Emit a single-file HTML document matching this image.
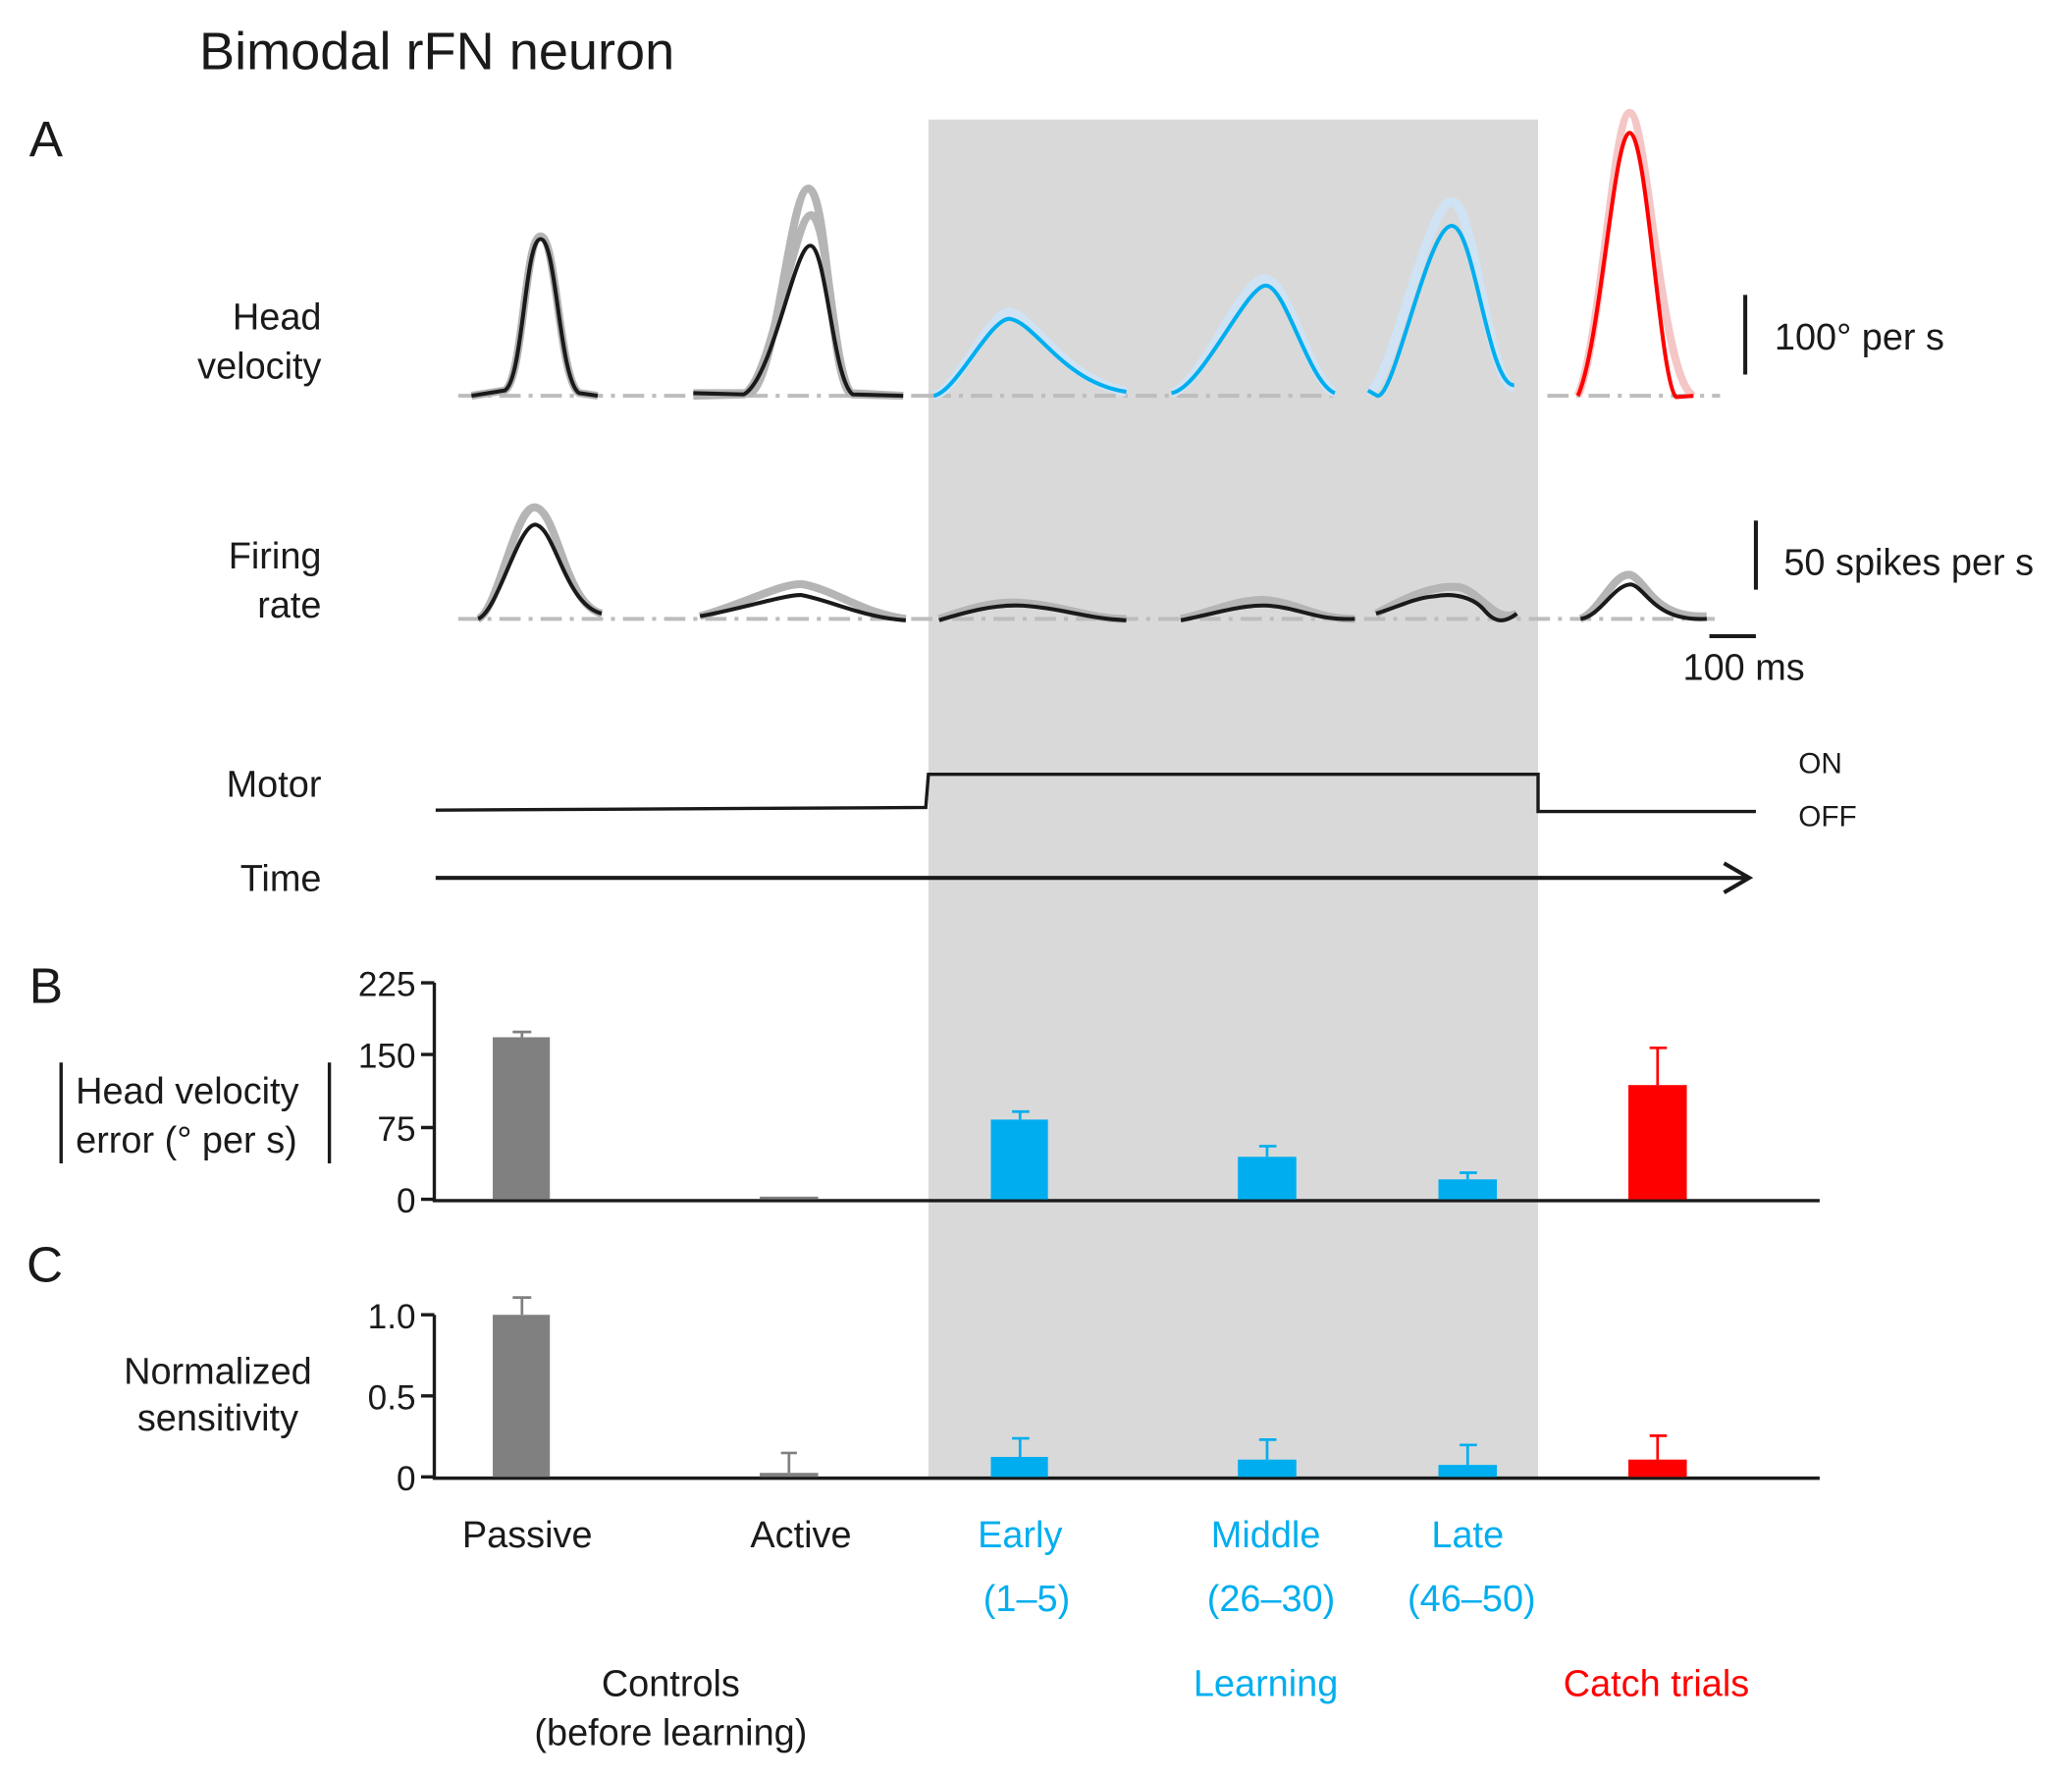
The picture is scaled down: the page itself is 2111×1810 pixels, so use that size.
<!DOCTYPE html>
<html><head><meta charset="utf-8"><style>
html,body{margin:0;padding:0;background:#fff}
svg{display:block}
text{font-family:"Liberation Sans",Arial,sans-serif;fill:#1a1a1a}
</style></head><body>
<svg width="2111" height="1810" viewBox="0 0 1560 1338" preserveAspectRatio="none" xmlns="http://www.w3.org/2000/svg">
<rect x="699" y="90" width="459" height="1023" fill="#d9d9d9"/>
<text x="150" y="52" font-size="40">Bimodal rFN neuron</text>
<text x="22" y="118" font-size="38">A</text>
<g font-size="28" text-anchor="end">
<text x="242" y="248">Head</text><text x="242" y="285">velocity</text>
<text x="242" y="428">Firing</text><text x="242" y="465">rate</text>
<text x="242" y="600">Motor</text><text x="242" y="671">Time</text>
</g>
<!-- baselines -->
<g stroke="#bdbdbd" stroke-width="3" stroke-dasharray="16,6,3,6" fill="none">
<path d="M345 298H700M700 298H1010M1165 298H1295"/>
<path d="M345 466H1295"/>
</g>
<!-- head velocity gray trials -->
<g fill="none" stroke="#b5b5b5" stroke-width="6" stroke-linejoin="round">
<path d="M355 298 L380 294 C394 286,395 178,407 178 C419 178,421 286,436 296 L450 298"/>
<path d="M522 296 L565 296 C585 285,595 140,609 142 C623 145,625 284,640 296 L680 298"/>
<path d="M522 298 L560 297 C582 285,598 160,611 162 C624 165,627 286,642 297 L680 298"/>
</g>
<g fill="none" stroke="#cfe3f5" stroke-width="7" stroke-linejoin="round">
<path d="M703 298 C720 295,745 235,760 235 C780 240,800 285,848 295"/>
<path d="M882 296 C905 290,935 208,953 210 C970 212,985 285,1005 296"/>
<path d="M1030 294 C1045 300,1075 150,1093 152 C1110 150,1120 290,1140 292"/>
</g>
<g fill="none" stroke="#f4c6c6" stroke-width="6"><path d="M1188 298 C1205 260,1215 85,1227 85 C1240 85,1250 285,1275 298"/></g>
<!-- mean traces -->
<g fill="none" stroke-width="3" stroke-linejoin="round">
<path stroke="#1a1a1a" d="M355 298 L380 294 C394 286,395 180,407 180 C419 180,421 286,436 296 L450 298"/>
<path stroke="#1a1a1a" d="M522 296 L560 297 C582 285,598 185,610 185 C622 185,627 286,642 297 L680 298"/>
<path stroke="#00aeef" d="M703 298 C720 295,745 240,760 240 C780 243,800 288,848 295"/>
<path stroke="#00aeef" d="M882 296 C905 292,938 215,953 215 C968 215,985 288,1005 296"/>
<path stroke="#00aeef" d="M1030 294 L1037 298 C1050 300,1075 170,1093 170 C1110 170,1120 290,1140 290"/>
<path stroke="#ff0000" d="M1188 298 C1205 260,1215 100,1227 100 C1240 100,1250 290,1262 299 L1275 298"/>
</g>
<!-- firing rate -->
<g fill="none" stroke="#b5b5b5" stroke-width="6" stroke-linejoin="round">
<path d="M360 466 C375 460,388 380,403 382 C420 385,425 455,453 462"/>
<path d="M527 464 C560 455,590 438,605 440 C630 445,650 462,682 466"/>
<path d="M707 466 C730 458,750 452,770 454 C800 456,820 466,848 466"/>
<path d="M889 466 C915 460,935 450,955 452 C980 455,990 466,1020 466"/>
<path d="M1036 462 C1050 455,1075 440,1098 442 C1115 445,1125 470,1142 462"/>
<path d="M1190 466 C1205 460,1215 430,1228 433 C1240 438,1245 466,1285 464"/>
</g>
<g fill="none" stroke="#1a1a1a" stroke-width="3" stroke-linejoin="round">
<path d="M360 466 C375 460,390 395,403 395 C418 397,425 455,453 462"/>
<path d="M527 464 C560 458,590 448,603 448 C625 452,650 465,682 467"/>
<path d="M707 467 C730 460,750 455,770 456 C800 458,820 466,848 467"/>
<path d="M889 467 C915 462,935 455,955 456 C980 458,990 467,1020 466"/>
<path d="M1036 462 C1050 458,1065 450,1080 449 C1095 446,1110 450,1118 460 C1125 468,1132 470,1142 462"/>
<path d="M1190 466 C1205 464,1215 440,1228 440 C1240 443,1245 468,1285 466"/>
</g>
<!-- scale bars -->
<g stroke="#1a1a1a" stroke-width="3"><path d="M1314 222V282M1322 392V444M1287 479H1322"/></g>
<text x="1336" y="263" font-size="28">100° per s</text>
<text x="1343" y="433" font-size="28">50 spikes per s</text>
<text x="1267" y="512" font-size="28">100 ms</text>
<!-- motor -->
<path d="M328 610 L697 608 L699 583 L1158 583 L1158 611 L1322 611" fill="none" stroke="#1a1a1a" stroke-width="2.5"/>
<text x="1354" y="582" font-size="22">ON</text><text x="1354" y="622" font-size="22">OFF</text>
<path d="M328 661H1316M1298 650L1317 661L1298 672" fill="none" stroke="#1a1a1a" stroke-width="3"/>
<!-- B -->
<text x="22" y="755" font-size="38">B</text>
<g stroke="#1a1a1a" stroke-width="2.5" fill="none">
<path d="M327 740V904H1370M317 740H327M317 794H327M317 849H327M317 903H327"/>
<path d="M46 800V876M248 800V876"/>
</g>
<g font-size="26" text-anchor="end"><text x="313" y="750">225</text><text x="313" y="804">150</text><text x="313" y="859">75</text><text x="313" y="913">0</text></g>
<text x="57" y="831" font-size="28">Head velocity</text>
<text x="57" y="868" font-size="28">error (° per s)</text>
<g stroke-width="2" fill="none">
<path stroke="#808080" d="M393 781V777M386 777H400"/>
<path stroke="#00aeef" d="M768 843V837M762 837H775M954 871V863M948 863H961M1105 888V883M1099 883H1112"/>
<path stroke="#ff0000" d="M1248 817V789M1242 789H1255"/>
</g>
<rect x="371" y="781" width="43" height="122" fill="#808080"/>
<rect x="572" y="901" width="44" height="2" fill="#808080"/>
<rect x="746" y="843" width="43" height="60" fill="#00aeef"/>
<rect x="932" y="871" width="44" height="32" fill="#00aeef"/>
<rect x="1083" y="888" width="44" height="15" fill="#00aeef"/>
<rect x="1226" y="817" width="44" height="86" fill="#ff0000"/>
<!-- C -->
<text x="20" y="965" font-size="38">C</text>
<g stroke="#1a1a1a" stroke-width="2.5" fill="none"><path d="M327 990V1113H1370M317 990H327M317 1051H327M317 1112H327"/></g>
<g font-size="26" text-anchor="end"><text x="313" y="1000">1.0</text><text x="313" y="1061">0.5</text><text x="313" y="1122">0</text></g>
<text x="164" y="1042" font-size="28" text-anchor="middle">Normalized</text>
<text x="164" y="1077" font-size="28" text-anchor="middle">sensitivity</text>
<g stroke-width="2" fill="none">
<path stroke="#808080" d="M393 990V977M386 977H400M594 1109V1094M588 1094H600"/>
<path stroke="#00aeef" d="M768 1097V1083M762 1083H775M954 1099V1084M948 1084H961M1105 1103V1088M1099 1088H1112"/>
<path stroke="#ff0000" d="M1248 1099V1081M1242 1081H1255"/>
</g>
<rect x="371" y="990" width="43" height="122" fill="#808080"/>
<rect x="572" y="1109" width="44" height="3" fill="#808080"/>
<rect x="746" y="1097" width="43" height="15" fill="#00aeef"/>
<rect x="932" y="1099" width="44" height="13" fill="#00aeef"/>
<rect x="1083" y="1103" width="44" height="9" fill="#00aeef"/>
<rect x="1226" y="1099" width="44" height="13" fill="#ff0000"/>
<!-- category labels -->
<g font-size="28" text-anchor="middle">
<text x="397" y="1165">Passive</text><text x="603" y="1165">Active</text>
<text x="768" y="1165" style="fill:#00aeef">Early</text>
<text x="953" y="1165" style="fill:#00aeef">Middle</text>
<text x="1105" y="1165" style="fill:#00aeef">Late</text>
<text x="773" y="1213" style="fill:#00aeef">(1–5)</text>
<text x="957" y="1213" style="fill:#00aeef">(26–30)</text>
<text x="1108" y="1213" style="fill:#00aeef">(46–50)</text>
<text x="505" y="1277">Controls</text><text x="505" y="1314">(before learning)</text>
<text x="953" y="1277" style="fill:#00aeef">Learning</text>
<text x="1247" y="1277" style="fill:#ff0000">Catch trials</text>
</g>
</svg>
</body></html>
